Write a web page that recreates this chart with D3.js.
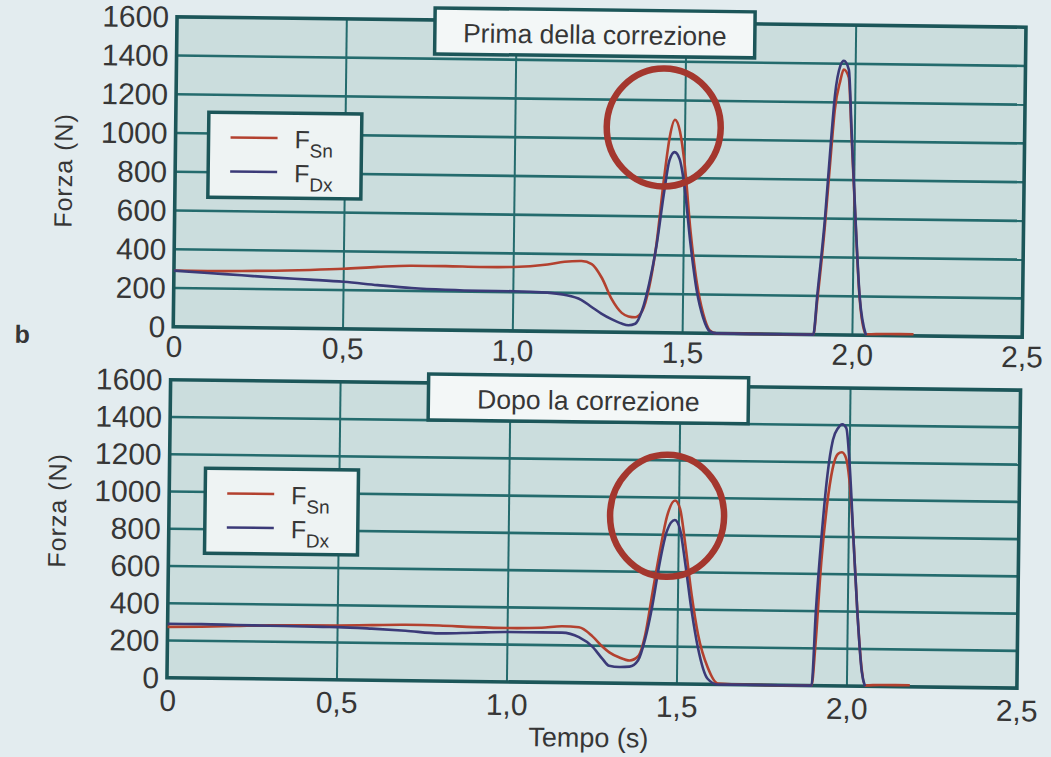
<!DOCTYPE html>
<html>
<head>
<meta charset="utf-8">
<script src="https://cdn.jsdelivr.net/npm/d3@7"></script>
<style>
  html, body { margin: 0; padding: 0; background: #e3ecef; }
  svg { display: block; }
  text { font-family: "Liberation Sans", Arial, sans-serif; fill: #363636; }
</style>
</head>
<body>
<div id="chart"></div>
<script>
// ---- data ----
var timePrima = [0, 0.1, 0.2, 0.3, 0.4, 0.5, 0.6, 0.7, 0.8, 0.9, 1.0,
    1.1, 1.15, 1.2, 1.23, 1.26, 1.29, 1.32,
    1.34, 1.36, 1.38, 1.40, 1.42, 1.44,
    1.455, 1.47, 1.485, 1.5,
    1.52, 1.54, 1.56, 1.58, 1.6,
    1.7, 1.8,
    1.885, 1.895, 1.915, 1.93, 1.94,
    1.955, 1.965, 1.98, 1.99,
    2.005, 2.02, 2.04,
    2.1, 2.18];
var fSnPrima = [290, 290, 292, 296, 302, 310, 322, 330, 330, 328, 330,
    345, 360, 365, 350, 280, 170, 100,
    82, 78, 110, 235, 460, 800,
    1010, 1100, 1040, 870,
    520, 260, 100, 15, 0,
    0, 0,
    0, 170, 560, 930, 1160,
    1310, 1370, 1330, 1040,
    590, 190, 5,
    8, 8];
var fDxPrima = [290, 280, 270, 260, 252, 243, 228, 215, 208, 205, 205,
    200, 190, 165, 130, 95, 67, 45,
    37, 45, 115, 255, 450, 720,
    890, 933, 897, 760,
    460, 220, 80, 10, 0,
    0, 0,
    0, 200, 600, 1000, 1235,
    1390, 1415, 1370, 1065,
    600, 200, 0,
    null, null];

var timeDopo = [0, 0.1, 0.2, 0.3, 0.4, 0.5, 0.6, 0.7, 0.8, 0.9, 1.0,
    1.1, 1.16, 1.21, 1.25, 1.28, 1.30, 1.33, 1.36,
    1.385, 1.405, 1.425, 1.445, 1.465, 1.488, 1.503,
    1.52, 1.54, 1.56, 1.59, 1.62,
    1.7, 1.8, 1.896,
    1.906, 1.92, 1.935, 1.95, 1.965, 1.977, 1.989, 2.0,
    2.014, 2.028, 2.043, 2.053,
    2.1, 2.185];
var fSnDopo = [273, 276, 282, 288, 290, 292, 296, 300, 298, 292, 289,
    293, 302, 298, 250, 195, 165, 138, 123,
    146, 262, 490, 710, 900, 985, 940,
    745, 480, 270, 90, 5,
    0, 0, 0,
    220, 660, 970, 1165, 1245, 1255, 1225, 1105,
    790, 400, 90, 5,
    8, 8];
var fDxDopo = [290, 290, 288, 286, 284, 283, 277, 268, 256, 262, 268,
    268, 268, 245, 195, 130, 93, 87, 90,
    125, 240, 420, 650, 820, 880, 834,
    650, 400, 200, 30, 0,
    0, 0, 0,
    400, 800, 1130, 1320, 1385, 1405, 1385, 1190,
    790, 400, 80, 0,
    null, null];

var xTicks = [0, 0.5, 1.0, 1.5, 2.0, 2.5];
var xTickLabels = ["0", "0,5", "1,0", "1,5", "2,0", "2,5"];
var yTicks = [0, 200, 400, 600, 800, 1000, 1200, 1400, 1600];
var seriesSubs = ["Sn", "Dx"];
var panelTitles = ["Prima della correzione", "Dopo la correzione"];
// highlighted peak (time, force)
var circlePrima = [1.437, 1060];
var circleDopo = [1.465, 902];

var W = 1051, H = 757;
var colors = { sn: "#b3412f", dx: "#3b3a78", grid: "#246b6d", frame: "#1c5659", ring: "#a4372e" };

var svg = d3.select("#chart").append("svg")
    .attr("width", W)
    .attr("height", H);

// the scan is slightly tilted
var root = svg.append("g").attr("transform", "rotate(0.7, 600, 350)");

function drawPanel(cfg) {
    var x = d3.scaleLinear().domain([0, 2.5]).range([cfg.left, cfg.left + cfg.w]);
    var y = d3.scaleLinear().domain([0, 1600]).range([cfg.top + cfg.h, cfg.top]);
    var g = root.append("g");

    // plot background
    g.append("rect")
        .attr("x", cfg.left).attr("y", cfg.top)
        .attr("width", cfg.w).attr("height", cfg.h)
        .attr("fill", "#cbdddd");

    // grid
    g.selectAll(".hg").data(yTicks.slice(1, -1)).join("line")
        .attr("x1", cfg.left).attr("x2", cfg.left + cfg.w)
        .attr("y1", d => y(d)).attr("y2", d => y(d))
        .attr("stroke", colors.grid).attr("stroke-width", 2.6);
    g.selectAll(".vg").data(xTicks.slice(1, -1)).join("line")
        .attr("x1", d => x(d)).attr("x2", d => x(d))
        .attr("y1", cfg.top).attr("y2", cfg.top + cfg.h)
        .attr("stroke", colors.grid).attr("stroke-width", 2);

    // tick labels
    g.selectAll(".yl").data(yTicks).join("text")
        .attr("x", cfg.left - 8)
        .attr("y", d => y(d) + 10.5)
        .attr("text-anchor", "end")
        .style("font-size", "30px")
        .text(d => d);
    g.selectAll(".xl").data(xTicks).join("text")
        .attr("x", d => x(d) + (d === 0 ? 1 : 0))
        .attr("y", cfg.top + cfg.h + cfg.xLabelDy)
        .attr("text-anchor", "middle")
        .style("font-size", "30px")
        .text((d, i) => xTickLabels[i]);

    // y title
    g.append("text")
        .attr("transform", "translate(" + (cfg.left - 103) + "," + (cfg.top + cfg.yTitleDy) + ") rotate(-90)")
        .attr("text-anchor", "middle")
        .style("font-size", "25px")
        .style("letter-spacing", "1px")
        .text("Forza (N)");

    // curves
    var line = d3.line()
        .defined(d => d[1] != null)
        .x(d => x(d[0]))
        .y(d => y(d[1]))
        .curve(d3.curveMonotoneX);

    var sn = cfg.time.map((t, i) => [t, cfg.sn[i]]);
    var dx = cfg.time.map((t, i) => [t, cfg.dx[i]]);

    // frame
    g.append("rect")
        .attr("x", cfg.left).attr("y", cfg.top)
        .attr("width", cfg.w).attr("height", cfg.h)
        .attr("fill", "none")
        .attr("stroke", colors.frame).attr("stroke-width", 3.6);

    g.append("path").datum(sn).attr("d", line)
        .attr("fill", "none").attr("stroke", colors.sn).attr("stroke-width", 2.6);
    g.append("path").datum(dx).attr("d", line)
        .attr("fill", "none").attr("stroke", colors.dx).attr("stroke-width", 2.6);

    // highlight ring
    g.append("ellipse")
        .attr("cx", x(cfg.ring[0])).attr("cy", y(cfg.ring[1]))
        .attr("rx", 57).attr("ry", cfg.ringRy)
        .attr("fill", "none")
        .attr("stroke", colors.ring).attr("stroke-width", 6.5);

    // title box
    var tb = g.append("g").attr("transform", "translate(" + (cfg.left + 258) + "," + (cfg.top + cfg.titleDy) + ")");
    tb.append("rect")
        .attr("width", 320).attr("height", 46)
        .attr("fill", "#f3f7f7")
        .attr("stroke", colors.frame).attr("stroke-width", 3.5);
    tb.append("text")
        .attr("x", 160).attr("y", 34)
        .attr("text-anchor", "middle")
        .style("font-size", "26.5px")
        .text(cfg.title);

    // legend
    var lg = g.append("g").attr("transform", "translate(" + (cfg.left + cfg.legX) + "," + (cfg.top + cfg.legY) + ")");
    lg.append("rect")
        .attr("width", 153).attr("height", 85)
        .attr("fill", "#eef3f3")
        .attr("stroke", colors.frame).attr("stroke-width", 3.5);
    [colors.sn, colors.dx].forEach(function (c, i) {
        var yy = 25 + i * 34;
        lg.append("line")
            .attr("x1", 22).attr("x2", 69)
            .attr("y1", yy).attr("y2", yy)
            .attr("stroke", c).attr("stroke-width", 2.6);
        var t = lg.append("text")
            .attr("x", 86).attr("y", yy + 10)
            .style("font-size", "25px");
        t.append("tspan").text("F");
        t.append("tspan")
            .attr("dy", 9)
            .style("font-size", "19px")
            .text(seriesSubs[i]);
    });
}

drawPanel({
    left: 173, top: 22, w: 849, h: 310,
    time: timePrima, sn: fSnPrima, dx: fDxPrima,
    ring: circlePrima, ringRy: 59,
    title: panelTitles[0], titleDy: -12,
    legX: 33, legY: 95,
    xLabelDy: 30, yTitleDy: 155
});

drawPanel({
    left: 171, top: 385, w: 850, h: 298,
    time: timeDopo, sn: fSnDopo, dx: fDxDopo,
    ring: circleDopo, ringRy: 61,
    title: panelTitles[1], titleDy: -9,
    legX: 36, legY: 88,
    xLabelDy: 33, yTitleDy: 132
});

// x axis title and panel letter
root.append("text")
    .attr("x", 593).attr("y", 747)
    .attr("text-anchor", "middle")
    .style("font-size", "27px")
    .text("Tempo (s)");

root.append("text")
    .attr("x", 22).attr("y", 350)
    .attr("text-anchor", "middle")
    .style("font-size", "25px")
    .style("font-weight", "bold")
    .text("b");
</script>
</body>
</html>
